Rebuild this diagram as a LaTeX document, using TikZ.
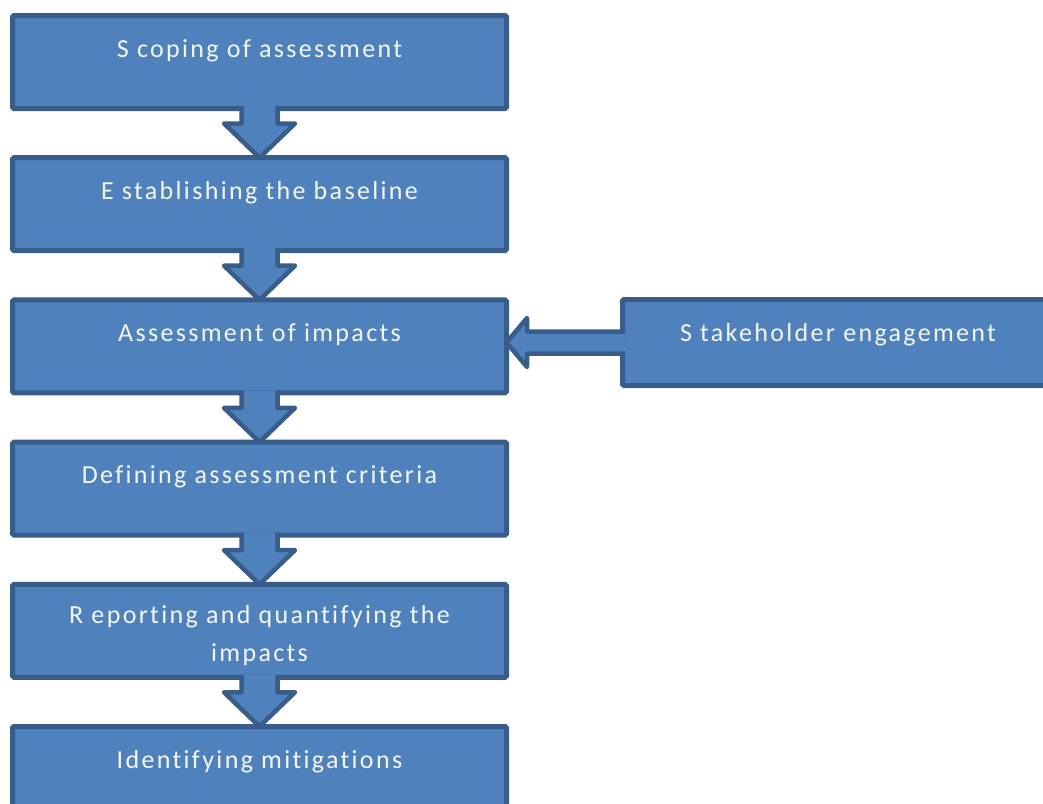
\documentclass[tikz,border=0pt]{standalone}
\usepackage{fontspec}
\setmainfont{Carlito}[LetterSpace=9, Ligatures=NoCommon]
\usetikzlibrary{calc}
\definecolor{boxfill}{HTML}{4F81BD}
\definecolor{boxline}{HTML}{385D8A}
\definecolor{boxtext}{HTML}{F4F7FB}

% block arrow pointing down from the bottom of box #1 to the top of box #2
\newcommand\flowdown[2]{%
  \path[blockarrow]
    ($(#1.south)+(-18,-2.5)$) -- ($(#1.south)+(-18,15)$)
    -- ($(#1.south)+(-35.5,15)$) -- (#2.north)
    -- ($(#1.south)+(35.5,15)$) -- ($(#1.south)+(18,15)$)
    -- ($(#1.south)+(18,-2.5)$);}

\begin{document}
\begin{tikzpicture}[x=1pt,y=-1pt,
  stepbox/.style={draw=boxline, fill=boxfill, line width=5pt,
    rounded corners=1.5pt, minimum width=494pt, minimum height=93pt,
    outer sep=0pt, inner sep=0pt, anchor=north west},
  steptext/.style={text=boxtext, anchor=base, inner sep=0pt,
    font=\fontsize{26}{38}\selectfont, align=center},
  blockarrow/.style={draw=boxline, fill=boxfill, line width=4.5pt,
    line join=round}]
\useasboundingbox (0,0) rectangle (1043,803);
\clip (0,0) rectangle (1043,803);

% process steps
\node[stepbox] (b1) at (12.5,15.5)  {};
\node[stepbox] (b2) at (12.5,157.7) {};
\node[stepbox] (b3) at (12.5,299.9) {};
\node[stepbox] (b4) at (12.5,442.1) {};
\node[stepbox] (b5) at (12.5,584.3) {};
\node[stepbox, minimum height=130pt] (b6) at (12.5,726.5) {};

% side input
\node[stepbox, minimum width=431pt, minimum height=86pt] (s) at (622.5,299.5) {};

% connectors between steps
\flowdown{b1}{b2}
\flowdown{b2}{b3}
\flowdown{b3}{b4}
\flowdown{b4}{b5}
\flowdown{b5}{b6}

% stakeholder input into the impact assessment
\path[blockarrow]
  ($(s.west)+(2.5,-11)$) -- ($(s.west)+(-95.5,-11)$)
  -- ($(s.west)+(-95.5,-24.5)$) -- (b3.east |- s.west)
  -- ($(s.west)+(-95.5,24.5)$) -- ($(s.west)+(-95.5,11)$)
  -- ($(s.west)+(2.5,11)$);

% labels (base anchor sits on the last line of a multi-line label)
\node[steptext] (t1) at ($(b1.north)+(0,41.5)$) {S coping of assessment};
\node[steptext] (t2) at ($(b2.north)+(0,41.5)$) {E stablishing the baseline};
\node[steptext] (t3) at ($(b3.north)+(0,41.5)$) {Assessment of impacts};
\node[steptext] (t4) at ($(b4.north)+(0,41.5)$) {Defining assessment criteria};
\node[steptext] (t5) at ($(b5.north)+(0,77.5)$) {R eporting and quantifying the\\impacts};
\node[steptext] (t6) at ($(b6.north)+(0,41.5)$) {Identifying mitigations};
\node[steptext] (ts) at ($(s.north)+(0,41.5)$) {S takeholder engagement};
\end{tikzpicture}
\end{document}
